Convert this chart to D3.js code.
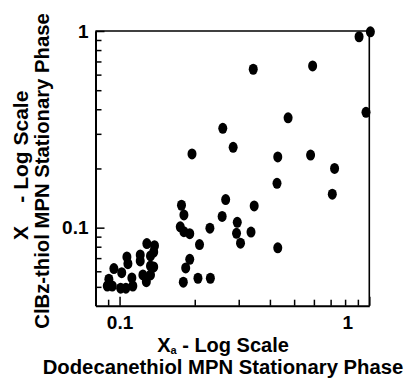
<!DOCTYPE html>
<html><head><meta charset="utf-8">
<script src="https://cdn.jsdelivr.net/npm/d3@7"></script>
<style>body{margin:0;background:#fff}svg{display:block}text{font-family:"Liberation Sans",Arial,sans-serif;font-weight:bold;fill:#000;white-space:pre}</style>
</head><body>
<svg id="c" width="406" height="378"></svg>
<script>
// Data: X_a (Dodecanethiol MPN) vs X (ClBz-thiol MPN)
const xa = [1.01,0.91,0.97,0.593,0.343,0.473,0.259,0.285,0.195,0.430,0.582,0.726,0.427,0.711,0.346,0.296,0.294,0.336,0.305,0.430,0.266,0.2575,0.177,0.181,0.175,0.181,0.191,0.230,0.209,0.191,0.184,0.180,0.206,0.231,
  0.1286,0.138,0.137,0.121,0.133,0.107,0.108,0.121,0.133,0.137,0.0949,0.102,0.124,0.133,0.112,0.128,0.0906,0.0893,0.0935,0.101,0.106,0.113];
const xs = [0.99,0.935,0.386,0.664,0.639,0.362,0.320,0.256,0.237,0.229,0.234,0.200,0.168,0.148,0.129,0.1065,0.0936,0.095,0.0834,0.079,0.139,0.114,0.130,0.116,0.101,0.0954,0.0932,0.0994,0.082,0.069,0.0624,0.0528,0.0553,0.0553,
  0.083,0.081,0.0752,0.0726,0.0718,0.071,0.0656,0.0677,0.0639,0.0631,0.0619,0.059,0.0575,0.0575,0.0555,0.0531,0.0547,0.0505,0.0505,0.0492,0.0492,0.0505];
const xTicks = [0.09,0.1,0.2,0.3,0.4,0.5,0.6,0.7,0.8,0.9,1];
const yTicks = [0.05,0.06,0.07,0.08,0.09,0.1,0.2,0.3,0.4,0.5,0.6,0.7,0.8,0.9,1];
const majorTicks = [0.1,1];
const xTitle = ["X", "a", " - Log Scale"];
const xTitle2 = "Dodecanethiol MPN Stationary Phase";
const yTitle = ["X    - Log Scale", "ClBz-thiol MPN Stationary Phase"];

const svg = d3.select("#c");
const L=95.5, R=369.3, T=31, B=305.7;
const x = d3.scaleLog().domain([0.0801,1]).range([L,R]);
const y = d3.scaleLog().domain([0.0401,1]).range([B,T]);

// frame
svg.append("line").attr("x1",L).attr("x2",R).attr("y1",T).attr("y2",T).attr("stroke","#000").attr("stroke-width",1.4);
svg.append("line").attr("x1",R).attr("x2",R).attr("y1",T).attr("y2",B).attr("stroke","#000").attr("stroke-width",1.6);

const fmt = d => majorTicks.includes(d) ? (d===1?"1":"0.1") : "";
const xAxis = svg.append("g").attr("transform",`translate(0,${B})`)
  .call(d3.axisBottom(x).tickValues(xTicks).tickFormat(fmt).tickSize(0).tickPadding(10));
const yAxis = svg.append("g").attr("transform",`translate(${L},0)`)
  .call(d3.axisLeft(y).tickValues(yTicks).tickFormat(fmt).tickSize(0).tickPadding(7));
[xAxis,yAxis].forEach(g=>{
  g.select(".domain").attr("stroke","#000").attr("stroke-width",2);
  g.selectAll(".tick line").attr("stroke","#000").attr("stroke-width",1.5);
  g.selectAll(".tick text").attr("font-size",19).attr("font-weight","bold").attr("fill","#000");
});
xAxis.selectAll(".tick line").attr("y2",d=>majorTicks.includes(d)?-9:-6);
yAxis.selectAll(".tick line").attr("x2",d=>majorTicks.includes(d)?9:6);
xAxis.selectAll(".tick text").filter(d=>d===1).attr("dx",-22);

// points
svg.append("g").selectAll("ellipse").data(xa.map((v,i)=>[v,xs[i]])).join("ellipse")
  .attr("cx",d=>x(d[0])).attr("cy",d=>y(d[1])).attr("rx",4.5).attr("ry",5.5).attr("fill","#000");

// x titles
const t1 = svg.append("text").attr("x",223).attr("y",352).attr("text-anchor","middle").attr("font-size",20).attr("font-weight","bold");
t1.append("tspan").text(xTitle[0]);
t1.append("tspan").attr("font-size",11).attr("dy",2).text(xTitle[1]);
t1.append("tspan").attr("dy",-2).text(xTitle[2]);
svg.append("text").attr("x",223).attr("y",374).attr("text-anchor","middle").attr("font-size",20.3).attr("font-weight","bold").text(xTitle2);

// y titles
svg.append("text").attr("transform","translate(28,240) rotate(-90)").attr("text-anchor","start").attr("font-size",21).attr("font-weight","bold").text(yTitle[0]);
svg.append("text").attr("transform","translate(49,171) rotate(-90)").attr("text-anchor","middle").attr("font-size",20.3).attr("font-weight","bold").text(yTitle[1]);
</script>
</body></html>
